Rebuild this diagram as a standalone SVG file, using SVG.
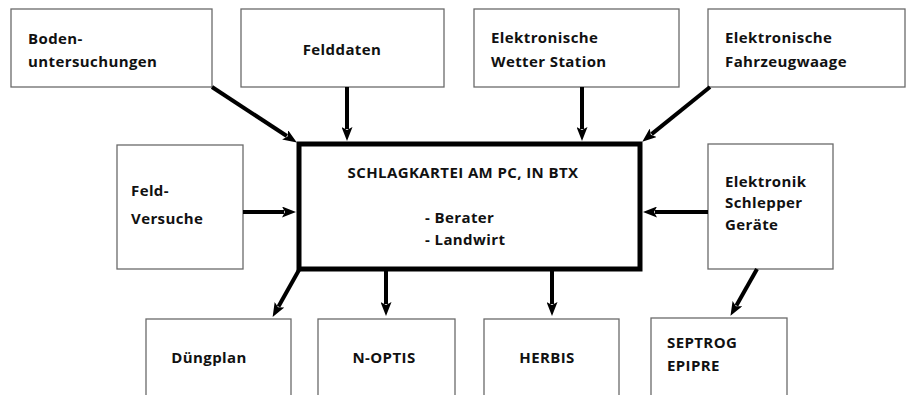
<svg xmlns="http://www.w3.org/2000/svg" width="910" height="395" viewBox="0 0 910 395">
<style>
.box{fill:#fff;stroke:#6a6a6a;stroke-width:1.3}
.main{fill:#fff;stroke:#000;stroke-width:5}
.t{font-family:"Open Sans","Noto Sans",sans-serif;font-weight:700;font-size:15px;letter-spacing:0.4px;fill:#111}
.c{stroke:#000;stroke-width:4;fill:none}
</style>
<defs>
<marker id="ah" viewBox="0 -5.5 14 11" refX="2" refY="0" markerWidth="14" markerHeight="11" markerUnits="userSpaceOnUse" orient="auto">
<path d="M0,-5.5 L14,0 L0,5.5 L3,0 z" fill="#000"/>
</marker>
</defs>
<rect width="910" height="395" fill="#fff"/>
<g id="boden"><rect class="box" x="11" y="9" width="201" height="78"/><text class="t" x="28" y="44">Boden-</text><text class="t" x="28" y="67">untersuchungen</text></g>
<g id="felddaten"><rect class="box" x="241" y="9" width="203" height="78"/><text class="t" x="342" y="55" text-anchor="middle">Felddaten</text></g>
<g id="wetter"><rect class="box" x="474" y="9" width="205" height="78"/><text class="t" x="491" y="43">Elektronische</text><text class="t" x="491" y="67">Wetter Station</text></g>
<g id="waage"><rect class="box" x="708" y="9" width="197" height="78"/><text class="t" x="725" y="43">Elektronische</text><text class="t" x="725" y="67">Fahrzeugwaage</text></g>
<g id="versuche"><rect class="box" x="117" y="145" width="126" height="124"/><text class="t" x="131" y="196">Feld-</text><text class="t" x="131" y="224">Versuche</text></g>
<g id="schlagkartei"><rect class="main" x="299" y="144" width="341" height="125"/><text class="t" x="463" y="178" text-anchor="middle">SCHLAGKARTEI AM PC, IN BTX</text><text class="t" x="425" y="223">- Berater</text><text class="t" x="425" y="245">- Landwirt</text></g>
<g id="elektronik"><rect class="box" x="708" y="144" width="125" height="125"/><text class="t" x="725" y="187">Elektronik</text><text class="t" x="725" y="208">Schlepper</text><text class="t" x="725" y="230">Geräte</text></g>
<g id="duengplan"><rect class="box" x="146" y="319" width="145" height="90"/><text class="t" x="209" y="363" text-anchor="middle">Düngplan</text></g>
<g id="noptis"><rect class="box" x="318" y="319" width="137" height="90"/><text class="t" x="384" y="363" text-anchor="middle">N-OPTIS</text></g>
<g id="herbis"><rect class="box" x="484" y="319" width="135" height="90"/><text class="t" x="547" y="363" text-anchor="middle">HERBIS</text></g>
<g id="septrog"><rect class="box" x="651" y="318" width="136" height="90"/><text class="t" x="667" y="348">SEPTROG</text><text class="t" x="667" y="371">EPIPRE</text></g>
<g id="connectors">
<line class="c" x1="212" y1="87" x2="286.8" y2="136" marker-end="url(#ah)"/>
<line class="c" x1="347" y1="87" x2="347" y2="129" marker-end="url(#ah)"/>
<line class="c" x1="582" y1="87" x2="582" y2="129" marker-end="url(#ah)"/>
<line class="c" x1="710" y1="87" x2="651.6" y2="134.1" marker-end="url(#ah)"/>
<line class="c" x1="243" y1="212" x2="284" y2="212" marker-end="url(#ah)"/>
<line class="c" x1="708" y1="212" x2="655" y2="212" marker-end="url(#ah)"/>
<line class="c" x1="299" y1="270" x2="278.5" y2="306.5" marker-end="url(#ah)"/>
<line class="c" x1="386" y1="271" x2="386" y2="304" marker-end="url(#ah)"/>
<line class="c" x1="552" y1="271" x2="552" y2="304" marker-end="url(#ah)"/>
<line class="c" x1="757" y1="269" x2="736.4" y2="305.4" marker-end="url(#ah)"/>
</g>
</svg>
